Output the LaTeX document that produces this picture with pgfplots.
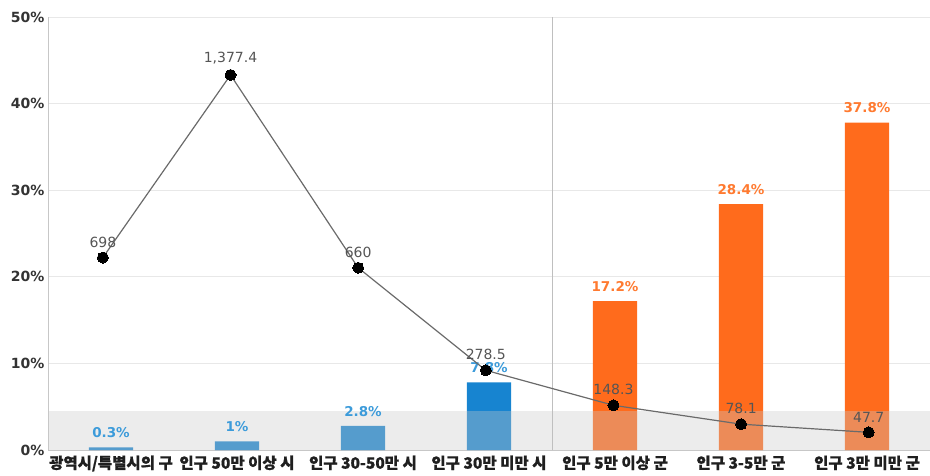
\documentclass[border=0pt]{standalone}
\usepackage{fontspec}
\setmainfont{DejaVu Sans}
\newfontfamily\kr[BoldFeatures={FakeBold=0.6}]{Noto Sans CJK KR}
\usepackage{pgfplots}
\pgfplotsset{compat=1.18}

\definecolor{barblue}{HTML}{1784D0}
\definecolor{barorange}{HTML}{FF6B1C}
\definecolor{lblblue}{HTML}{3C9BDA}
\definecolor{lblorange}{HTML}{FF7A30}
\definecolor{bandgray}{HTML}{C9C9C9}
\definecolor{linegray}{HTML}{6A6A6A}
\definecolor{valgray}{HTML}{555555}

\begin{document}
\begin{tikzpicture}[x=1pt,y=1pt]
\path[use as bounding box] (0,0) rectangle (930,475);

% share of population (bars)
\begin{axis}[
  at={(48pt,25pt)}, anchor=south west, scale only axis,
  width=882pt, height=433pt,
  xmin=-0.5, xmax=6.5, ymin=0, ymax=50,
  axis x line*=bottom, axis y line*=left,
  axis line style={draw=black!22, line width=1pt, -},
  major tick length=0pt,
  xtick={0,...,6},
  xticklabels={광역시/특별시의 구, 인구 50만 이상 시, 인구 30-50만 시, 인구 30만 미만 시, 인구 5만 이상 군, 인구 3-5만 군, 인구 3만 미만 군},
  xticklabel style={font=\kr\bfseries\fontsize{15.5}{15.5}\selectfont, text=black!88, yshift=-2pt},
  ytick={0,10,...,50},
  yticklabel={\pgfmathprintnumber{\tick}\%},
  yticklabel style={font=\bfseries\fontsize{14}{14}\selectfont, text=black!80},
  ymajorgrids, grid style={draw=black!9, line width=1pt},
  /pgf/number format/.cd, fixed, precision=1, 1000 sep={,}, assume math mode=true,
]
\addplot[ybar, bar width=0.35, bar shift=0pt, fill=barblue, draw=none,
  nodes near coords={\pgfmathprintnumber{\pgfplotspointmeta}\%},
  nodes near coords style={font=\bfseries\fontsize{13.5}{13.5}\selectfont, text=lblblue, yshift=6pt}]
  coordinates {(0,0.3) (1,1.0) (2,2.8) (3,7.8)};
\addplot[ybar, bar width=0.35, bar shift=0pt, fill=barorange, draw=none,
  nodes near coords={\pgfmathprintnumber{\pgfplotspointmeta}\%},
  nodes near coords style={font=\bfseries\fontsize{13.5}{13.5}\selectfont, text=lblorange, yshift=6pt}]
  coordinates {(4,17.2) (5,28.4) (6,37.8)};
% low band and divider between cities and counties
\fill[bandgray, opacity=0.35] (axis cs:-0.5,0) rectangle (axis cs:6.5,4.5);
\draw[black!25, line width=1pt] (axis cs:3.5,0) -- (axis cs:3.5,50);
\end{axis}

% population density (line, own scale)
\begin{axis}[
  at={(48pt,25pt)}, anchor=south west, scale only axis,
  width=882pt, height=433pt,
  xmin=-0.43, xmax=6.48, ymin=-18, ymax=1593,
  hide axis, clip=false,
  /pgf/number format/.cd, fixed, precision=1, 1000 sep={,}, assume math mode=true,
]
\addplot[linegray, line width=1.2pt, mark=*, mark size=5.5pt,
  mark options={fill=black, draw=black, line width=0pt},
  nodes near coords,
  nodes near coords style={font=\fontsize{14}{14}\selectfont, text=valgray, yshift=7pt}]
  coordinates {(0,698) (1,1377.4) (2,660) (3,278.5) (4,148.3) (5,78.1) (6,47.7)};
\end{axis}
\end{tikzpicture}
\end{document}
